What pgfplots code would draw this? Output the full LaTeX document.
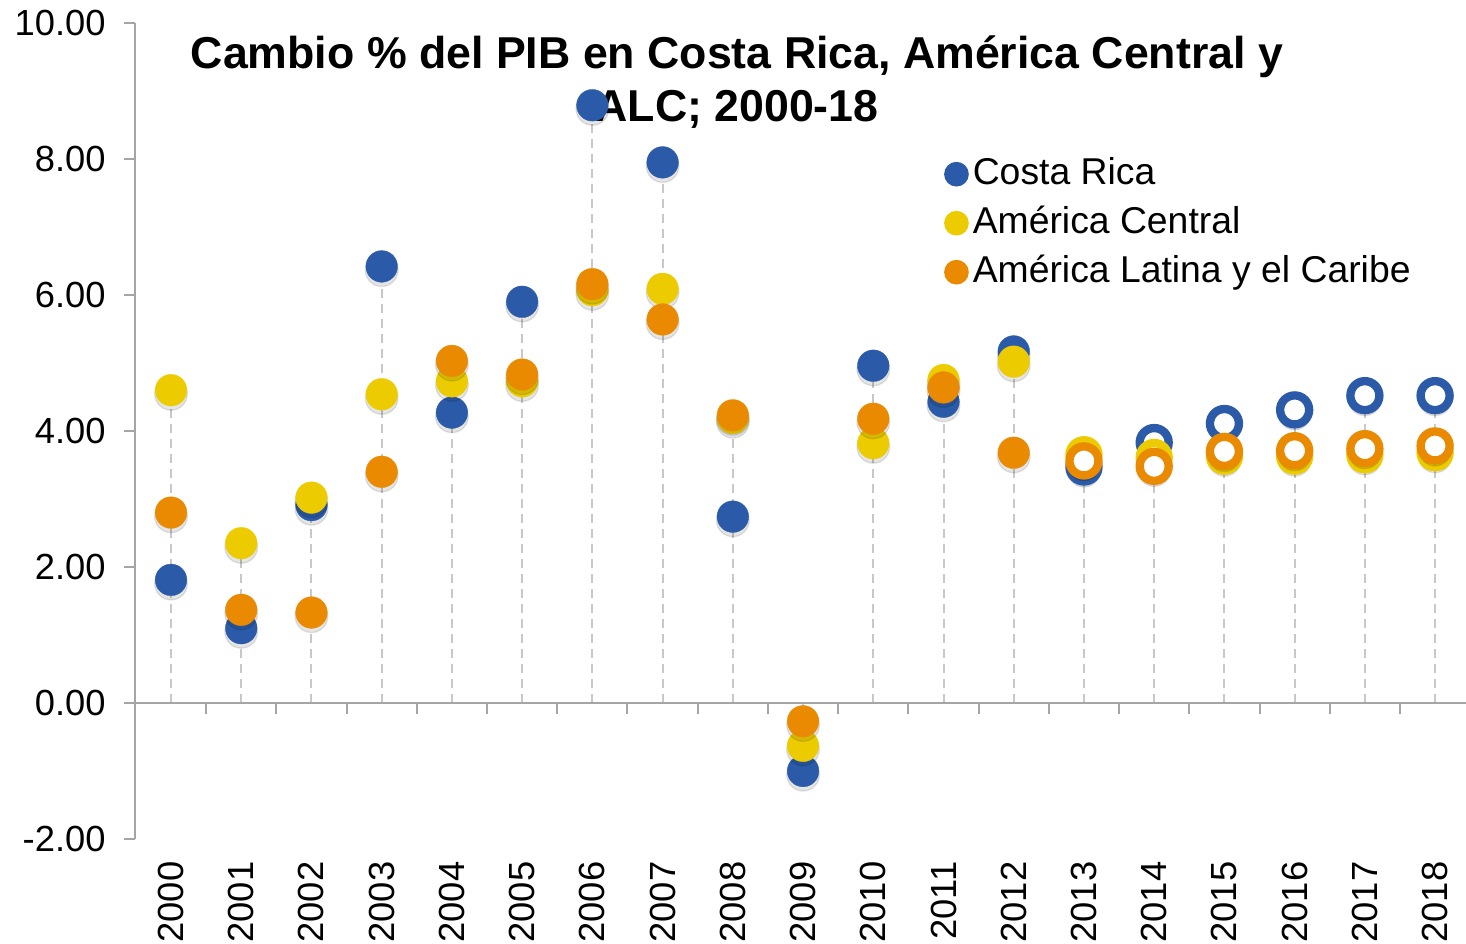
\documentclass[border=0pt]{standalone}
\usepackage{pgfplots}
\usepackage{pgfplotstable}
\pgfplotsset{compat=1.18}
\usepackage{fontspec}
\setmainfont{Liberation Sans}
\definecolor{cblue}{RGB}{43,91,168}
\definecolor{cyellow}{RGB}{236,204,0}
\definecolor{corange}{RGB}{233,138,0}
\definecolor{axgray}{RGB}{165,165,165}
\definecolor{dropgray}{RGB}{200,200,200}
\pgfplotstableread{
x    cr     ac     alc    top
0    1.81   4.60   2.80   4.60
1    1.10   2.35   1.37   2.35
2    2.91   3.02   1.33   3.02
3    6.42   4.54   3.40   6.42
4    4.27   4.73   5.03   5.03
5    5.90   4.73   4.83   5.90
6    8.79   6.07   6.16   8.79
7    7.95   6.09   5.64   7.95
8    2.74   4.19   4.23   4.23
9    -1.00  -0.63  -0.27  -0.27
10   4.96   3.82   4.18   4.96
11   4.43   4.75   4.64   4.75
12   5.17   5.02   3.68   5.17
13   3.47   3.65   3.56   3.65
14   3.83   3.61   3.48   3.83
15   4.11   3.63   3.70   4.11
16   4.31   3.63   3.71   4.31
17   4.52   3.65   3.74   4.52
18   4.52   3.68   3.78   4.52
}\gdp
\begin{document}
\begin{tikzpicture}
\begin{axis}[
  scale only axis, width=399.3pt, height=244.8pt,
  xmin=-0.513, xmax=18.44, ymin=-2, ymax=10,
  clip=false,
  axis y line*=left, axis x line*=bottom,
  x axis line style={draw=none},
  y axis line style={draw=axgray, line width=0.6pt, -},
  xtick={0,...,18},
  xticklabels={2000,2001,2002,2003,2004,2005,2006,2007,2008,2009,2010,2011,2012,2013,2014,2015,2016,2017,2018},
  x tick style={draw=none},
  ytick={-2,0,2,4,6,8,10},
  y tick style={draw=axgray, line width=0.6pt},
  tick align=outside, major tick length=3.3pt,
  /pgf/number format/assume math mode=true,
  yticklabel style={/pgf/number format/fixed, /pgf/number format/fixed zerofill, /pgf/number format/precision=2, xshift=-2pt},
  ticklabel style={font=\fontsize{10.9}{12}\selectfont},
  xticklabel style={rotate=90, anchor=east},
  legend style={at={(0.6074,0.838)}, anchor=north west, draw=none, fill=none, inner sep=0pt,
    font=\fontsize{11.2}{13.4}\selectfont, row sep=3.7pt, column sep=1.2pt,
    nodes={inner sep=0pt, text height=8.5pt, text depth=2.5pt}},
  legend cell align=left,
  fillmark/.style={only marks, mark=*, mark size=4.75pt, color=#1, mark options={draw=#1, fill=#1, line width=0.1pt}},
  ringmark/.style={only marks, mark=*, mark size=4.35pt, color=#1, mark options={draw=#1, fill=white, line width=2.5pt}, forget plot},
  shadowmark/.style={only marks, mark=*, mark size=4.9pt, color=black, opacity=0.1, mark options={draw=none, fill=black, yshift=-1.1pt}, forget plot},
]
% drop lines
\addplot[ycomb, dropgray, dash pattern=on 2.7pt off 1.8pt, line width=0.6pt, no marks, forget plot] table[x=x, y=top] {\gdp};
% Costa Rica
\addplot[shadowmark] table[x=x, y=cr] {\gdp};
\addplot[fillmark=cblue, restrict x to domain=0:12.5,
  legend image code/.code={\fill[cblue] (0pt,0pt) circle (3.5pt);}] table[x=x, y=cr] {\gdp};
\addlegendentry{Costa Rica}
\addplot[ringmark=cblue, restrict x to domain=12.5:18.5] table[x=x, y=cr] {\gdp};
% America Central
\addplot[shadowmark] table[x=x, y=ac] {\gdp};
\addplot[fillmark=cyellow, restrict x to domain=0:12.5,
  legend image code/.code={\fill[cyellow] (0pt,0pt) circle (3.5pt);}] table[x=x, y=ac] {\gdp};
\addlegendentry{América Central}
\addplot[ringmark=cyellow, restrict x to domain=12.5:18.5] table[x=x, y=ac] {\gdp};
% ALC
\addplot[shadowmark] table[x=x, y=alc] {\gdp};
\addplot[fillmark=corange, restrict x to domain=0:12.5,
  legend image code/.code={\fill[corange] (0pt,0pt) circle (3.5pt);}] table[x=x, y=alc] {\gdp};
\addlegendentry{América Latina y el Caribe}
\addplot[ringmark=corange, restrict x to domain=12.5:18.5] table[x=x, y=alc] {\gdp};
% x axis line at zero and ticks between categories
\draw[axgray, line width=0.6pt] (axis cs:-0.66,0) -- (axis cs:18.44,0);
\pgfplotsinvokeforeach{0.5,1.5,2.5,3.5,4.5,5.5,6.5,7.5,8.5,9.5,10.5,11.5,12.5,13.5,14.5,15.5,16.5,17.5}{\draw[axgray, line width=0.6pt] (axis cs:#1,0) -- (axis cs:#1,-0.162);}
\node[font=\fontsize{13.4}{15.9}\selectfont\bfseries, align=center] at (rel axis cs:0.4523,0.928)
  {Cambio \% del PIB en Costa Rica, América Central y\\ALC; 2000-18};
\end{axis}
\pgfresetboundingbox
\path[use as bounding box] (current axis.south west) ++(-40.5pt,-31.5pt) rectangle ++(439.8pt,283.2pt);
\end{tikzpicture}
\end{document}
